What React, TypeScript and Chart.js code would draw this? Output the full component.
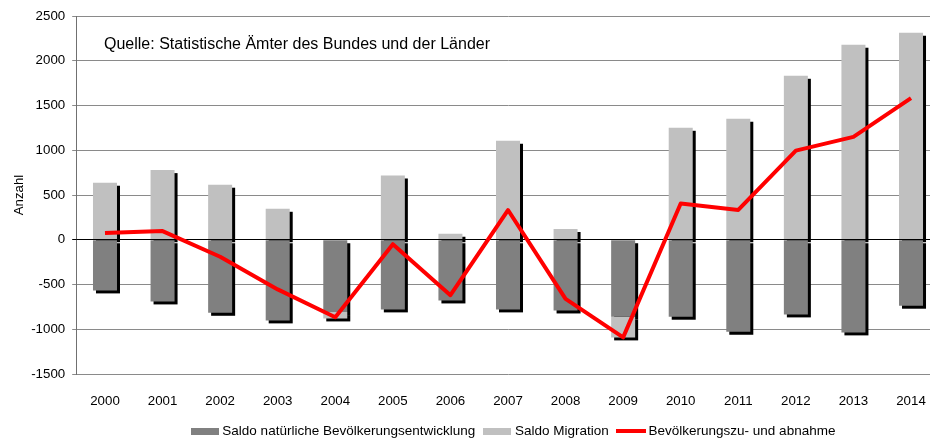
import React, { useEffect, useRef } from "react";
import { Chart, registerables } from "chart.js";

Chart.register(...registerables);

const years = ["2000", "2001", "2002", "2003", "2004", "2005", "2006", "2007", "2008", "2009", "2010", "2011", "2012", "2013", "2014"];
const naturalBalance = [-566, -689, -816, -901, -808, -778, -678, -778, -790, -860, -860, -1028, -834, -1035, -737];
const migrationBalance = [637, 778, 615, 346, -71, 718, 67, 1106, 120, -231, 1251, 1352, 1832, 2179, 2313];
const populationChange = [75, 97, -190, -555, -866, -50, -620, 332, -660, -1091, 405, 333, 996, 1150, 1582];

const seriesNames = ["Saldo natürliche Bevölkerungsentwicklung", "Saldo Migration", "Bevölkerungszu- und abnahme"];
const sourceText = "Quelle: Statistische Ämter des Bundes und der Länder";
const yTitle = "Anzahl";

const FONT = "'Liberation Sans', Arial, sans-serif";

function swatch(w: number, h: number, color: string) {
  const c = document.createElement("canvas");
  c.width = w;
  c.height = h;
  const g = c.getContext("2d")!;
  g.fillStyle = color;
  g.fillRect(0, 0, w, h);
  return c;
}

export default function App() {
  const ref = useRef<HTMLCanvasElement | null>(null);

  useEffect(() => {
    if (!ref.current) return;
    const darkSw = swatch(28, 7, "#808080");
    const lightSw = swatch(28, 7, "#c0c0c0");
    const redSw = swatch(30, 4, "#ff0000");
    const swatches = [darkSw, lightSw, redSw];

    const shadowPlugin = {
      id: "shadows",
      beforeDatasetsDraw(chart: any) {
        const ctx = chart.ctx;
        ctx.save();
        ctx.fillStyle = "#000000";
        [0, 1].forEach((i) => {
          const meta = chart.getDatasetMeta(i);
          meta.data.forEach((bar: any) => {
            const { x, y, base, width } = bar.getProps(["x", "y", "base", "width"], true);
            ctx.fillRect(x - width / 2 + 3, Math.min(y, base) + 3, width, Math.abs(base - y));
          });
        });
        ctx.restore();
      },
      afterDatasetDraw(chart: any, args: any) {
        if (args.index !== 0) return;
        const ctx = chart.ctx;
        const y0 = Math.round(chart.scales.y.getPixelForValue(0) + 0.5) - 0.5;
        ctx.save();
        ctx.strokeStyle = "#000000";
        ctx.lineWidth = 1;
        ctx.beginPath();
        ctx.moveTo(chart.chartArea.left, y0);
        ctx.lineTo(chart.chartArea.right, y0);
        ctx.stroke();
        ctx.restore();
      },
      afterDraw(chart: any) {
        const ctx = chart.ctx;
        ctx.save();
        ctx.fillStyle = "#000000";
        ctx.font = `16px ${FONT}`;
        ctx.textBaseline = "middle";
        ctx.textAlign = "left";
        ctx.fillText(sourceText, 104, 45);
        ctx.restore();
      },
    };

    const chart = new Chart(ref.current, {
      type: "bar",
      data: {
        labels: years,
        datasets: [
          {
            type: "bar",
            label: seriesNames[0],
            data: naturalBalance,
            backgroundColor: "#808080",
            borderWidth: 0,
            stack: "bars",
            order: 1,
            categoryPercentage: 1,
            barPercentage: 0.417,
          } as any,
          {
            type: "bar",
            label: seriesNames[1],
            data: migrationBalance,
            backgroundColor: "#c0c0c0",
            borderWidth: 0,
            stack: "bars",
            order: 2,
            categoryPercentage: 1,
            barPercentage: 0.417,
          } as any,
          {
            type: "line",
            label: seriesNames[2],
            data: populationChange,
            borderColor: "#ff0000",
            backgroundColor: "#ff0000",
            borderWidth: 4,
            pointRadius: 0,
            tension: 0,
            fill: false,
            stack: "line",
            order: 0,
            borderJoinStyle: "round",
          } as any,
        ],
      },
      options: {
        responsive: false,
        animation: false,
        devicePixelRatio: 1,
        layout: { padding: { top: 16, left: 0, right: 0, bottom: 0 } },
        plugins: {
          tooltip: { enabled: false },
          legend: {
            position: "bottom",
            labels: {
              usePointStyle: true,
              pointStyleWidth: 22,
              padding: 11,
              color: "#000000",
              font: { family: FONT, size: 13.5 },
              sort: (a: any, b: any) => a.datasetIndex - b.datasetIndex,
              generateLabels: (chart: any) => {
                const items = Chart.defaults.plugins.legend.labels.generateLabels(chart);
                items.forEach((it: any) => {
                  it.pointStyle = swatches[it.datasetIndex];
                  it.lineWidth = 0;
                });
                return items;
              },
            },
          },
        },
        scales: {
          x: {
            stacked: true,
            grid: { display: false },
            border: { display: false },
            ticks: { color: "#000000", font: { family: FONT, size: 13.3 }, padding: 11, maxRotation: 0 },
            afterFit: (s: any) => {
              s.height = 39.5;
            },
          },
          y: {
            stacked: true,
            min: -1500,
            max: 2500,
            ticks: {
              stepSize: 500,
              color: "#000000",
              font: { family: FONT, size: 13.3 },
              padding: 7,
              callback: (v: any) => String(v),
            },
            grid: {
              color: (c: any) => (c.tick && c.tick.value === 0 ? "#000000" : "#8a8a8a"),
              lineWidth: 1,
              tickLength: 4,
              drawTicks: true,
            },
            border: { display: true, color: "#707070", width: 1 },
            title: {
              display: true,
              text: yTitle,
              color: "#000000",
              font: { family: FONT, size: 13.3 },
              padding: { top: 11, bottom: 0 },
            },
            afterFit: (s: any) => {
              s.width = 76.2;
            },
          },
          yR: {
            type: "linear",
            position: "right",
            display: true,
            grid: { display: false },
            border: { display: false },
            ticks: { display: false },
            afterFit: (s: any) => {
              s.width = 89.2;
            },
          },
        },
      } as any,
      plugins: [shadowPlugin],
    });
    return () => chart.destroy();
  }, []);

  return (
    <div style={{ position: "fixed", left: 0, top: 0, width: 930, height: 441, overflow: "hidden", background: "#ffffff" }}>
      <canvas ref={ref} width={1029} height={448} style={{ width: 1029, height: 448, display: "block" }} />
    </div>
  );
}
